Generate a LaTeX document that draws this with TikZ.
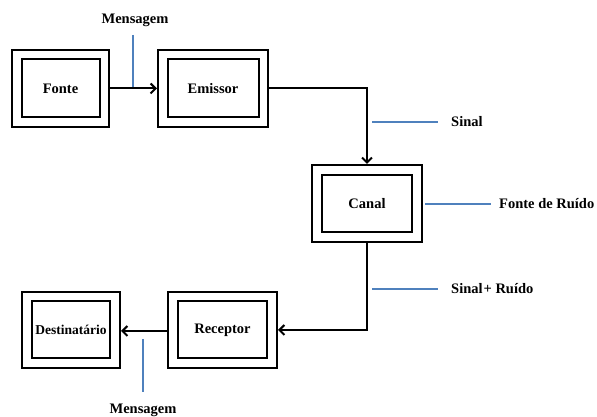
\documentclass[tikz,border=0pt]{standalone}
\usepackage{fontspec}
\setmainfont{Liberation Serif}
\usetikzlibrary{arrows.meta}
\definecolor{linkblue}{RGB}{79,129,189}
\begin{document}
\begin{tikzpicture}[x=1pt,y=1pt,
  outerbox/.style={draw, line width=2pt, minimum width=#1, minimum height=77pt, inner sep=0pt},
  innerbox/.style={draw, line width=2pt, minimum height=58pt, inner sep=0pt,
    font=\fontsize{14.5}{16}\selectfont\bfseries},
  flow/.style={line width=2pt, -{Straight Barb[length=5pt,width=10pt,line width=2pt]}},
  tag/.style={draw=linkblue, line width=2pt},
  tagtext/.style={font=\fontsize{14.5}{16}\selectfont\bfseries, inner sep=0pt}
]
\useasboundingbox (0,0) rectangle (597,417);

% blocks: outer frame + inner frame carrying the label
\node[outerbox=97pt] (fonteO) at (60.5,328.5) {};
\node[innerbox, minimum width=78pt] (fonte) at (60.5,328.5) {Fonte};

\node[outerbox=110pt] (emissorO) at (213,328.5) {};
\node[innerbox, minimum width=91pt] (emissor) at (213,328.5) {Emissor};

\node[outerbox=110pt] (canalO) at (367,213.5) {};
\node[innerbox, minimum width=90pt, minimum height=57pt] (canal) at (367,213.5) {Canal};

\node[outerbox=109pt, minimum height=76pt] (receptorO) at (222.5,87) {};
\node[innerbox, minimum width=89pt, minimum height=57pt] (receptor) at (222.5,87) {Receptor};

\node[outerbox=98pt, minimum height=76pt] (destO) at (71,87) {};
\node[innerbox, minimum width=78pt, minimum height=57pt] (dest) at (71,87)
  {\fontsize{13.5}{15}\selectfont Destinatário};

% signal path
\draw[flow] (fonteO.east) -- (emissorO.west);
\draw[flow] (emissorO.east) -| (canalO.north);
\draw[flow] (canalO.south) |- (receptorO.east);
\draw[flow] ([yshift=-1pt]receptorO.west) -- ([yshift=-1pt]destO.east);

% annotations
\coordinate (m1a) at (133,382);
\coordinate (m1b) at (133,330);
\draw[tag] (m1a) -- (m1b);
\node[tagtext] (msg1) at (135,397) {Mensagem};

\coordinate (s1a) at (372,295);
\coordinate (s1b) at (438,295);
\draw[tag] (s1a) -- (s1b);
\node[tagtext, anchor=west] (sinal) at (451,295) {Sinal};

\coordinate (r1a) at (425,213);
\coordinate (r1b) at (491,213);
\draw[tag] (r1a) -- (r1b);
\node[tagtext, anchor=west] (ruido) at (499,213) {Fonte de Ruído};

\coordinate (sr1a) at (372,128);
\coordinate (sr1b) at (438,128);
\draw[tag] (sr1a) -- (sr1b);
\node[tagtext, anchor=west] (sinalruido) at (451,128) {Sinal\hspace{1pt}+ Ruído};

\coordinate (m2a) at (143,78);
\coordinate (m2b) at (143,25);
\draw[tag] (m2a) -- (m2b);
\node[tagtext] (msg2) at (143,7) {Mensagem};
\end{tikzpicture}
\end{document}
